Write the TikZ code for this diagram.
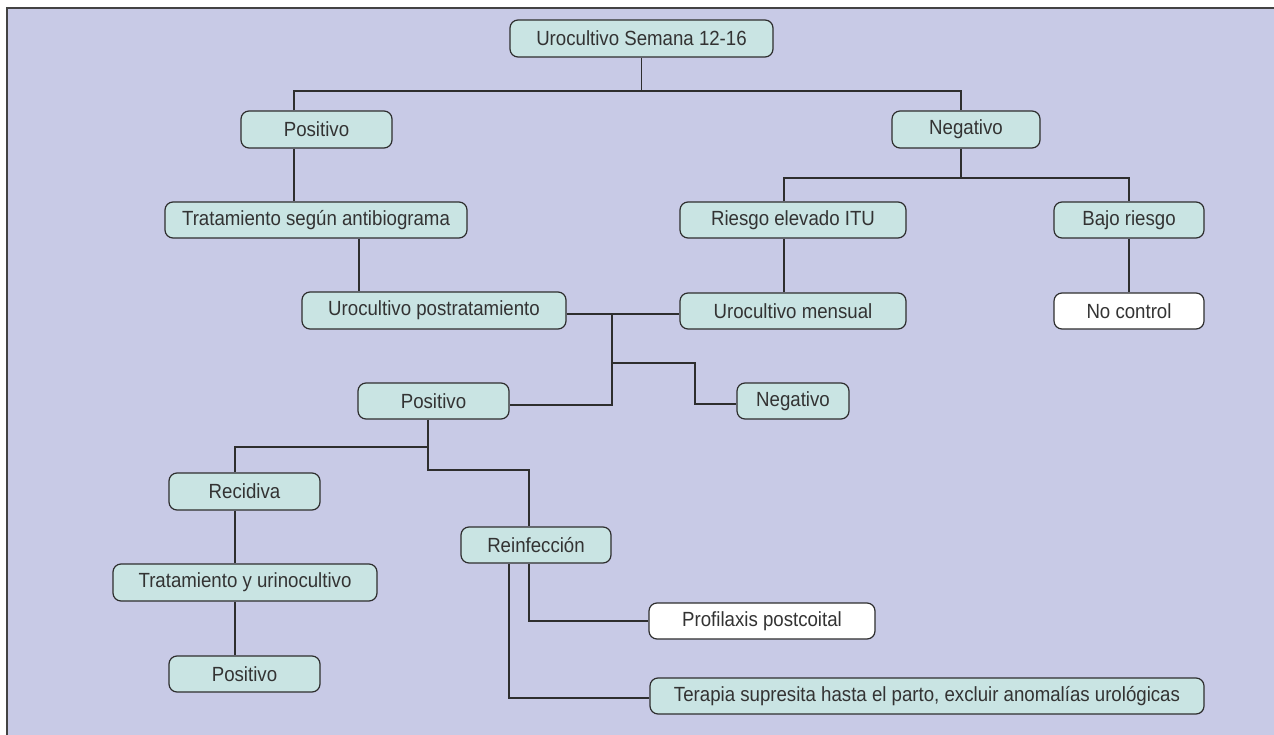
\documentclass[tikz,border=0pt]{standalone}
\usepackage{fontspec}
\setmainfont{Liberation Sans}[FakeStretch=0.91]
\definecolor{bgc}{HTML}{C8CAE6}
\definecolor{nodefill}{HTML}{C9E4E3}
\definecolor{linec}{HTML}{2E2E2E}
\definecolor{textc}{HTML}{333333}
\tikzset{
  box/.style={draw=linec, line width=1.2pt, rounded corners=8pt, fill=nodefill,
    inner sep=0pt, minimum height=37pt, text=textc,
    font=\fontsize{20.5}{24}\selectfont},
  wbox/.style={box, fill=white},
  conn/.style={draw=linec, line width=1.2pt}
}
\begin{document}
\begin{tikzpicture}[x=1pt,y=-1pt]
\useasboundingbox (0,0) rectangle (1274,735);
\fill[bgc] (7,8) rectangle (1274,735);
\draw[draw=linec!90, line width=1.3pt] (7,735) -- (7,8) -- (1274,8);

% nodes
\node[box, minimum width=263pt] (top) at (641.5,38.5) {Urocultivo Semana 12-16};
\node[box, minimum width=151pt] (pos1) at (316.5,129.5) {Positivo};
\node[box, minimum width=148pt] (neg1) at (966,129.5) {Negativo};
\node[box, minimum width=302pt, minimum height=36pt] (trat) at (316,220) {Tratamiento según antibiograma};
\node[box, minimum width=226pt, minimum height=36pt] (riesgo) at (793,220) {Riesgo elevado ITU};
\node[box, minimum width=150pt, minimum height=36pt] (bajo) at (1129,220) {Bajo riesgo};
\node[box, minimum width=264pt] (post) at (434,310.5) {Urocultivo postratamiento};
\node[box, minimum width=226pt, minimum height=36pt] (mensual) at (793,311) {Urocultivo mensual};
\node[wbox, minimum width=150pt, minimum height=36pt] (nocontrol) at (1129,311) {No control};
\node[box, minimum width=151pt, minimum height=36pt] (pos2) at (433.5,401) {Positivo};
\node[box, minimum width=112pt, minimum height=36pt] (neg2) at (793,401) {Negativo};
\node[box, minimum width=151pt] (recidiva) at (244.5,491.5) {Recidiva};
\node[box, minimum width=150pt, minimum height=36pt] (reinf) at (536,545) {Reinfección};
\node[box, minimum width=264pt] (tratyur) at (245,582.5) {Tratamiento y urinocultivo};
\node[box, minimum width=151pt, minimum height=36pt] (pos3) at (244.5,674) {Positivo};
\node[wbox, minimum width=226pt, minimum height=36pt] (profil) at (762,621) {Profilaxis postcoital};
\node[box, minimum width=554pt, minimum height=36pt] (terapia) at (927,696) {Terapia supresita hasta el parto, excluir anomalías urológicas};

% connectors
\draw[conn] (top.south) -- (top.south |- 0,91);
\draw[conn] (pos1.north -| 294,0) -- (294,91) -- (961,91) -- (neg1.north -| 961,0);
\draw[conn] (pos1.south -| 294,0) -- (trat.north -| 294,0);
\draw[conn] (neg1.south -| 961,0) -- (961,178);
\draw[conn] (riesgo.north -| 784,0) -- (784,178) -- (1129,178) -- (bajo.north);
\draw[conn] (riesgo.south -| 784,0) -- (mensual.north -| 784,0);
\draw[conn] (bajo.south) -- (nocontrol.north);
\draw[conn] (trat.south -| 359,0) -- (post.north -| 359,0);
\draw[conn] (post.east |- 0,314) -- (mensual.west |- 0,314);
\draw[conn] (612,314) -- (612,405) -- (pos2.east |- 0,405);
\draw[conn] (612,363) -- (695,363) -- (695,404) -- (neg2.west |- 0,404);
\draw[conn] (pos2.south -| 428,0) -- (428,470) -- (529,470) -- (reinf.north -| 529,0);
\draw[conn] (428,447) -- (235,447) -- (recidiva.north -| 235,0);
\draw[conn] (recidiva.south -| 235,0) -- (tratyur.north -| 235,0);
\draw[conn] (tratyur.south -| 235,0) -- (pos3.north -| 235,0);
\draw[conn] (reinf.south -| 529,0) -- (529,621) -- (profil.west);
\draw[conn] (reinf.south -| 509,0) -- (509,698) -- (terapia.west |- 0,698);
\end{tikzpicture}
\end{document}
